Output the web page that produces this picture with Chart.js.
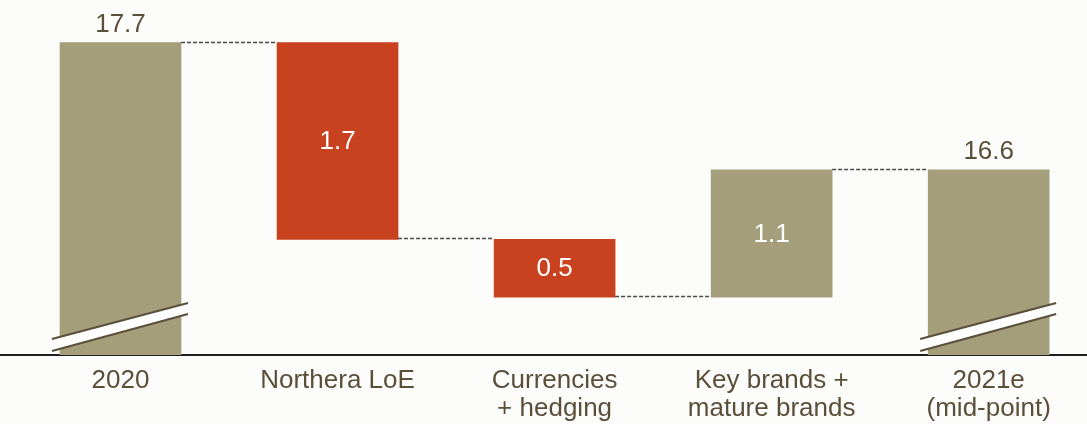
<!DOCTYPE html>
<html>
<head>
<meta charset="utf-8">
<style>
  html, body { margin: 0; padding: 0; background: #fcfcfb; }
  #wrap { width: 1087px; height: 424px; position: relative; }
</style>
<script src="https://cdn.jsdelivr.net/npm/chart.js@4.4.1/dist/chart.umd.min.js"></script>
</head>
<body>
<div id="wrap"><canvas id="chart"></canvas></div>
<script>
// ===== DATA =====
const categories = ["2020", "Northera LoE", ["Currencies", "+ hedging"], ["Key brands +", "mature brands"], ["2021e", "(mid-point)"]];
const steps = [17.7, -1.7, -0.5, 1.1, 16.6];
const kinds = ["total", "delta", "delta", "delta", "total"];
const axisFloor = 15; // broken axis starts here
const axisTop = 18;

const TAN = "#a59e7b";
const RED = "#c9421f";
const TEXT = "#5b4f3a";
const FONT = "'Liberation Sans', Arial, sans-serif";

// running level after each bar + floating ranges
const levels = [];
const ranges = [];
let run = 0;
steps.forEach((v, i) => {
  if (kinds[i] === "total") {
    run = v;
    ranges.push([axisFloor, v]);
  } else {
    const prev = run;
    run = Math.round((run + v) * 10) / 10;
    ranges.push([Math.min(prev, run), Math.max(prev, run)]);
  }
  levels.push(run);
});

const colors = steps.map((v, i) => (kinds[i] === "delta" && v < 0 ? RED : TAN));

// ===== DECORATION PLUGIN (connectors, axis breaks, value labels) =====
const waterfallExtras = {
  id: "waterfallExtras",
  afterDatasetsDraw(chart) {
    const ctx = chart.ctx;
    const meta = chart.getDatasetMeta(0);
    const y = chart.scales.y;
    ctx.save();

    // dashed connectors
    ctx.strokeStyle = "#4a4a4a";
    ctx.lineWidth = 1.4;
    ctx.setLineDash([4, 2]);
    for (let i = 0; i < meta.data.length - 1; i++) {
      const a = meta.data[i], b = meta.data[i + 1];
      const py = Math.round(y.getPixelForValue(levels[i])) - 0.5;
      ctx.beginPath();
      ctx.moveTo(a.x + a.width / 2, py);
      ctx.lineTo(b.x - b.width / 2, py);
      ctx.stroke();
    }
    ctx.setLineDash([]);

    // axis break marks on the total bars
    const base = y.getPixelForValue(axisFloor);
    meta.data.forEach((el, i) => {
      if (kinds[i] !== "total") return;
      const L = el.x - el.width / 2 - 8;
      const R = el.x + el.width / 2 + 7;
      ctx.fillStyle = "#ffffff";
      ctx.beginPath();
      ctx.moveTo(L, base - 16);
      ctx.lineTo(R, base - 52);
      ctx.lineTo(R, base - 41);
      ctx.lineTo(L, base - 4);
      ctx.closePath();
      ctx.fill();
      ctx.strokeStyle = TEXT;
      ctx.lineWidth = 2;
      ctx.beginPath();
      ctx.moveTo(L, base - 16);
      ctx.lineTo(R, base - 52);
      ctx.moveTo(L, base - 4);
      ctx.lineTo(R, base - 41);
      ctx.stroke();
    });

    // value labels
    ctx.font = "26px " + FONT;
    ctx.textAlign = "center";
    meta.data.forEach((el, i) => {
      const txt = Math.abs(steps[i]).toFixed(1);
      if (kinds[i] === "total") {
        ctx.fillStyle = TEXT;
        ctx.textBaseline = "alphabetic";
        ctx.fillText(txt, el.x, el.y - 11);
      } else {
        const top = Math.min(el.y, el.base), bot = Math.max(el.y, el.base);
        ctx.fillStyle = "#ffffff";
        ctx.textBaseline = "middle";
        ctx.fillText(txt, el.x, (top + bot) / 2 + 1);
      }
    });
    ctx.restore();
  },
};

// ===== CHART =====
new Chart(document.getElementById("chart"), {
  type: "bar",
  data: {
    datasets: [
      {
        data: ranges.map((r, i) => ({ x: i, y: r })),
        backgroundColor: colors,
        borderWidth: 0,
        barThickness: 121,
      },
    ],
  },
  options: {
    responsive: true,
    maintainAspectRatio: false,
    animation: false,
    layout: { padding: { top: 8, bottom: 2, left: 0, right: 0 } },
    plugins: { legend: { display: false }, tooltip: { enabled: false } },
    scales: {
      x: {
        type: "linear",
        offset: false,
        min: -0.5552,
        max: 4.453,
        grid: { display: false, drawTicks: false },
        border: { display: true, color: "#1e1e1e", width: 2 },
        afterBuildTicks: (s) => {
          s.ticks = categories.map((_, i) => ({ value: i }));
        },
        afterFit: (s) => {
          s.paddingLeft = 0;
          s.paddingRight = 0;
          s.height = 67;
        },
        ticks: {
          autoSkip: false,
          maxRotation: 0,
          padding: 12,
          color: TEXT,
          font: { family: FONT, size: 26, lineHeight: 1.08 },
          callback: (v) => categories[v],
        },
      },
      y: {
        display: false,
        min: axisFloor,
        max: axisTop,
      },
    },
  },
  plugins: [waterfallExtras],
});
</script>
</body>
</html>
